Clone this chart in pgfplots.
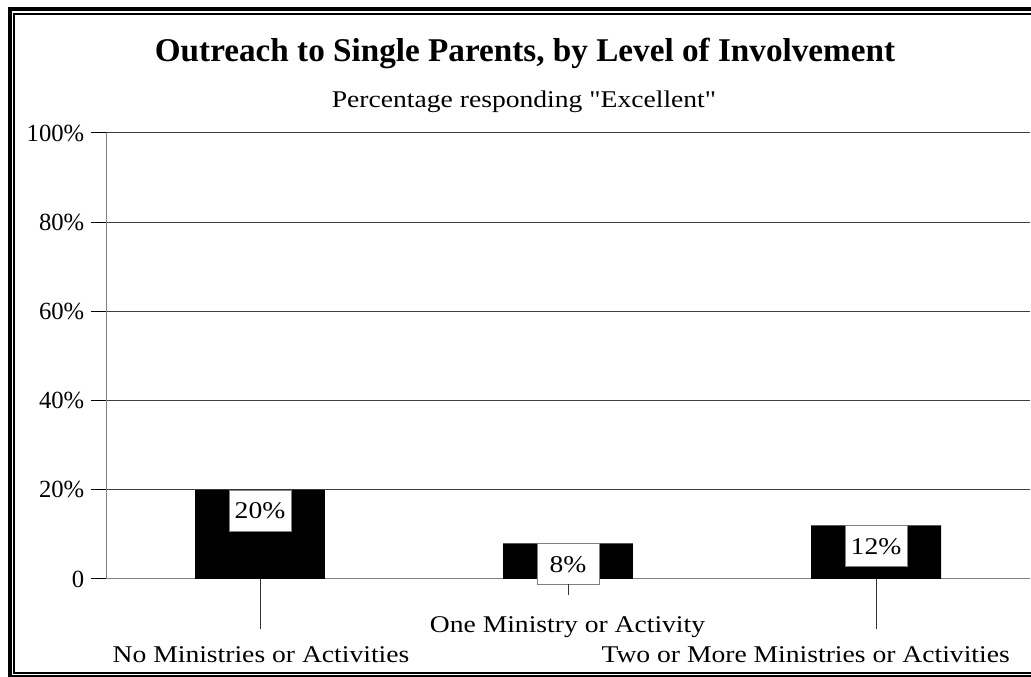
\documentclass[border=0pt]{standalone}
\usepackage{fontspec}
\setmainfont{Liberation Serif}[FakeStretch=1.15, Ligatures=TeXOff]
\newfontfamily\titlefont{Liberation Serif}
\usepackage{pgfplots}
\pgfplotsset{compat=1.18}

\begin{document}
\begin{tikzpicture}[x=0.75pt,y=0.75pt]
\useasboundingbox (0,0) rectangle (1031,677);
% double frame, right and bottom edges run off the page
\draw[line width=2.5pt] (10,668) rectangle (1041,0.2);
\draw[line width=1.5pt] (14.3,663.3) rectangle (1036.5,4);

\node[anchor=base, font=\titlefont\fontsize{24.9}{28}\selectfont\bfseries] at (525,615)
  {Outreach to Single Parents, by Level of Involvement};
\node[anchor=base, font=\fontsize{18}{22}\selectfont] at (524,569)
  {Percentage responding "Excellent"};

\begin{axis}[
  at={(79.5pt,73.5pt)}, anchor=south west,
  scale only axis, width=693pt, height=334.5pt,
  xmin=-0.5, xmax=2.5, ymin=0, ymax=100,
  axis lines=left, axis line style={-, gray, line width=0.75pt},
  ybar, bar width=0.422,
  xtick=\empty,
  ytick={0,20,40,60,80,100},
  yticklabels={0,20\%,40\%,60\%,80\%,100\%},
  yticklabel style={font=\titlefont\fontsize{18.5}{20}\selectfont, xshift=-1.5pt},
  ymajorgrids, major grid style={black!75, line width=0.75pt},
  tick align=outside, major tick length=11.25pt,
  tick style={black, line width=0.75pt},
  /pgf/number format/assume math mode=true,
  nodes near coords={\pgfmathprintnumber{\pgfplotspointmeta}\%},
  every node near coord/.append style={anchor=north, fill=white, draw=gray,
    line width=0.75pt, inner sep=0pt, minimum width=46.5pt,
    minimum height=30.75pt, font=\fontsize{18}{20}\selectfont},
]
\addplot[fill=black, draw=none] coordinates {(0,20) (1,8) (2,12)};
\end{axis}

% leader lines to the staggered category labels
\draw[black!80, line width=0.75pt] (260,98) -- (260,48);
\draw[black!80, line width=0.75pt] (568,93) -- (568,82);
\draw[black!80, line width=0.75pt] (876,98) -- (876,48);

\begin{scope}[font=\fontsize{18}{20}\selectfont]
\node[anchor=base] at (261,14) {No Ministries or Activities};
\node[anchor=base] at (567.5,44) {One Ministry or Activity};
\node[anchor=base east, inner sep=0pt] at (1010,14) {Two or More Ministries or Activities};
\end{scope}
\end{tikzpicture}
\end{document}
